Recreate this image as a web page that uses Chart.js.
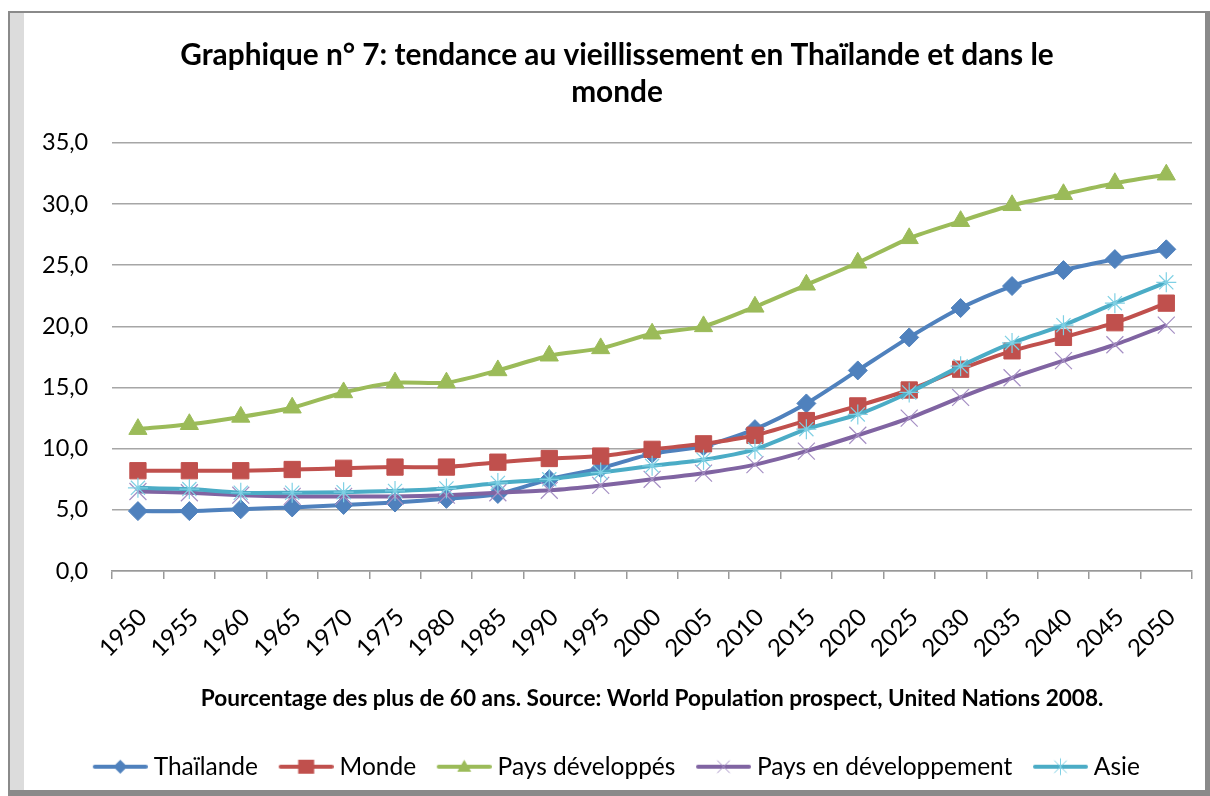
<!DOCTYPE html>
<html>
<head>
<meta charset="utf-8">
<script src="https://cdn.jsdelivr.net/npm/chart.js@4"></script>
<style>
  html, body { margin: 0; padding: 0; background: #fff; }
  #frame {
    position: absolute; left: 8px; top: 11px; width: 1195px; height: 777px;
    border-top: 2px solid #8a8a8a; border-left: 2px solid #8a8a8a;
    border-right: 5px solid #8a8a8a; border-bottom: 6px solid #8a8a8a;
    box-shadow: inset 14px 0 0 #dcdcdc; background: #fff;
  }
  #wrap { position: absolute; left: 0; top: 0; width: 1210px; height: 796px; }
</style>
</head>
<body>
<div id="frame"></div>
<div id="wrap"><canvas id="chart" width="1210" height="796"></canvas></div>
<script>
const years = ["1950", "1955", "1960", "1965", "1970", "1975", "1980", "1985", "1990", "1995", "2000",
               "2005", "2010", "2015", "2020", "2025", "2030", "2035", "2040", "2045", "2050"];

const thailande = [4.9, 4.9, 5.05, 5.2, 5.4, 5.6, 5.9, 6.3, 7.5, 8.4, 9.6, 10.2, 11.6, 13.7, 16.4, 19.1, 21.5, 23.3, 24.6, 25.5, 26.3];
const monde = [8.2, 8.2, 8.2, 8.3, 8.4, 8.5, 8.5, 8.9, 9.2, 9.4, 9.95, 10.4, 11.1, 12.3, 13.5, 14.8, 16.5, 18.0, 19.1, 20.3, 21.9];
const paysDeveloppes = [11.6, 12.0, 12.6, 13.35, 14.6, 15.4, 15.4, 16.4, 17.6, 18.2, 19.4, 20.0, 21.6, 23.4, 25.2, 27.2, 28.6, 29.9, 30.8, 31.7, 32.4];
const paysEnDeveloppement = [6.5, 6.4, 6.2, 6.1, 6.1, 6.1, 6.2, 6.4, 6.6, 7.0, 7.5, 8.0, 8.7, 9.8, 11.1, 12.5, 14.2, 15.8, 17.2, 18.5, 20.1];
const asie = [6.8, 6.7, 6.4, 6.4, 6.45, 6.55, 6.75, 7.2, 7.5, 8.05, 8.6, 9.1, 9.95, 11.6, 12.8, 14.6, 16.75, 18.65, 20.1, 21.9, 23.6];

const yTicks = [0, 5, 10, 15, 20, 25, 30, 35];

const FONT = "Lato";

// little line + marker pictures for the legend, like Excel
function legendIcon(color, marker, markColor) {
  const c = document.createElement("canvas");
  c.width = 72; c.height = 26;
  const g = c.getContext("2d");
  g.strokeStyle = color; g.lineWidth = 4; g.lineCap = "round";
  g.beginPath(); g.moveTo(19, 13); g.lineTo(70, 13); g.stroke();
  const x = 44.5, y = 13;
  g.fillStyle = markColor; g.strokeStyle = markColor; g.lineWidth = 1;
  g.beginPath();
  if (marker === "diamond") {
    g.moveTo(x, y - 7); g.lineTo(x + 7, y); g.lineTo(x, y + 7); g.lineTo(x - 7, y); g.closePath(); g.fill();
  } else if (marker === "square") {
    g.fillRect(x - 8, y - 7, 16, 14);
  } else if (marker === "triangle") {
    g.moveTo(x, y - 7); g.lineTo(x + 7, y + 5); g.lineTo(x - 7, y + 5); g.closePath(); g.fill();
  } else if (marker === "x") {
    g.moveTo(x - 6, y - 6); g.lineTo(x + 6, y + 6); g.moveTo(x + 6, y - 6); g.lineTo(x - 6, y + 6); g.stroke();
  } else {
    g.moveTo(x - 6, y - 6); g.lineTo(x + 6, y + 6); g.moveTo(x + 6, y - 6); g.lineTo(x - 6, y + 6);
    g.moveTo(x, y - 8); g.lineTo(x, y + 8); g.stroke();
  }
  return c;
}

const icons = [
  legendIcon("#4F81BD", "diamond", "#4F81BD"),
  legendIcon("#C0504D", "square", "#C0504D"),
  legendIcon("#9BBB59", "triangle", "#9BBB59"),
  legendIcon("#8064A2", "x", "#a58fc4"),
  legendIcon("#4BACC6", "star", "#7fd0e4")
];

const dataObj = {
  labels: years,
  datasets: [
    {
      label: "Thaïlande", data: thailande, order: 4,
      borderColor: "#4F81BD", backgroundColor: "#4F81BD", borderWidth: 4,
      pointStyle: "rectRot", pointRadius: 9.5, pointBackgroundColor: "#4F81BD", pointBorderColor: "#4F81BD", pointBorderWidth: 1
    },
    {
      label: "Monde", data: monde, order: 3,
      borderColor: "#C0504D", backgroundColor: "#C0504D", borderWidth: 4,
      pointStyle: "rect", pointRadius: 11.5, pointBackgroundColor: "#C0504D", pointBorderColor: "#C0504D", pointBorderWidth: 1
    },
    {
      label: "Pays développés", data: paysDeveloppes, order: 2,
      borderColor: "#9BBB59", backgroundColor: "#9BBB59", borderWidth: 4,
      pointStyle: "triangle", pointRadius: 10.5, pointBackgroundColor: "#9BBB59", pointBorderColor: "#9BBB59", pointBorderWidth: 1
    },
    {
      label: "Pays en développement", data: paysEnDeveloppement, order: 1,
      borderColor: "#8064A2", backgroundColor: "#8064A2", borderWidth: 4,
      pointStyle: "crossRot", pointRadius: 12, pointBorderColor: "#a58fc4", pointBorderWidth: 1.2
    },
    {
      label: "Asie", data: asie, order: 0,
      borderColor: "#4BACC6", backgroundColor: "#4BACC6", borderWidth: 4,
      pointStyle: "star", pointRadius: 10, pointBorderColor: "#7fd0e4", pointBorderWidth: 1.2
    }
  ]
};

// nudge the title and legend a bit right, as in the original
const blockShift = {
  id: "blockShift",
  afterLayout(chart) {
    if (chart.legend) { chart.legend.left += 6; chart.legend.right += 6; }
    if (chart.titleBlock) { chart.titleBlock.left += 12; chart.titleBlock.right += 12; }
  }
};

new Chart("chart", {
  type: "line",
  data: dataObj,
  plugins: [blockShift],
  options: {
    responsive: false,
    animation: false,
    layout: { padding: { left: 18, right: 18, top: 0, bottom: 7 } },
    elements: { line: { tension: 0.25 } },
    plugins: {
      tooltip: { enabled: false },
      title: {
        display: true,
        text: ["Graphique n° 7: tendance au vieillissement en Thaïlande et dans le", "monde"],
        font: { family: FONT, size: 29.8, weight: "bold", lineHeight: 1.24 },
        color: "#000",
        padding: { top: 36.5, bottom: 32.5 }
      },
      legend: {
        position: "bottom",
        labels: {
          usePointStyle: true,
          pointStyleWidth: 59.25,
          padding: 10,
          font: { family: FONT, size: 24.5 },
          color: "#000",
          sort: (a, b) => a.datasetIndex - b.datasetIndex,
          generateLabels: chart => {
            const items = Chart.defaults.plugins.legend.labels.generateLabels(chart);
            items.forEach(it => { it.pointStyle = icons[it.datasetIndex]; });
            return items;
          }
        }
      }
    },
    scales: {
      x: {
        offset: true,
        afterFit: s => { s.paddingLeft = 0; s.paddingRight = 0; },
        grid: { display: true, offset: true, drawOnChartArea: false, drawTicks: true, tickLength: 8, color: "#999", lineWidth: 1.5 },
        border: { display: true, color: "#999", width: 1.5 },
        ticks: { autoSkip: false, maxRotation: 45, minRotation: 45, labelOffset: 5, font: { family: FONT, size: 24 }, color: "#000", padding: 24 },
        title: {
          display: true,
          text: "Pourcentage des plus de 60 ans. Source: World Population prospect, United Nations 2008.",
          font: { family: FONT, size: 22.6, weight: "bold", lineHeight: 1.05 },
          color: "#000",
          padding: { top: 0, bottom: 34 }
        }
      },
      y: {
        min: 0, max: 35,
        afterBuildTicks: axis => { axis.ticks = yTicks.map(v => ({ value: v })); },
        ticks: {
          callback: v => v.toFixed(1).replace(".", ","),
          font: { family: FONT, size: 23.5 }, color: "#000", padding: 24
        },
        grid: { color: "#a6a6a6", lineWidth: 1.5, drawTicks: false },
        border: { display: false }
      }
    }
  }
});
</script>
</body>
</html>
